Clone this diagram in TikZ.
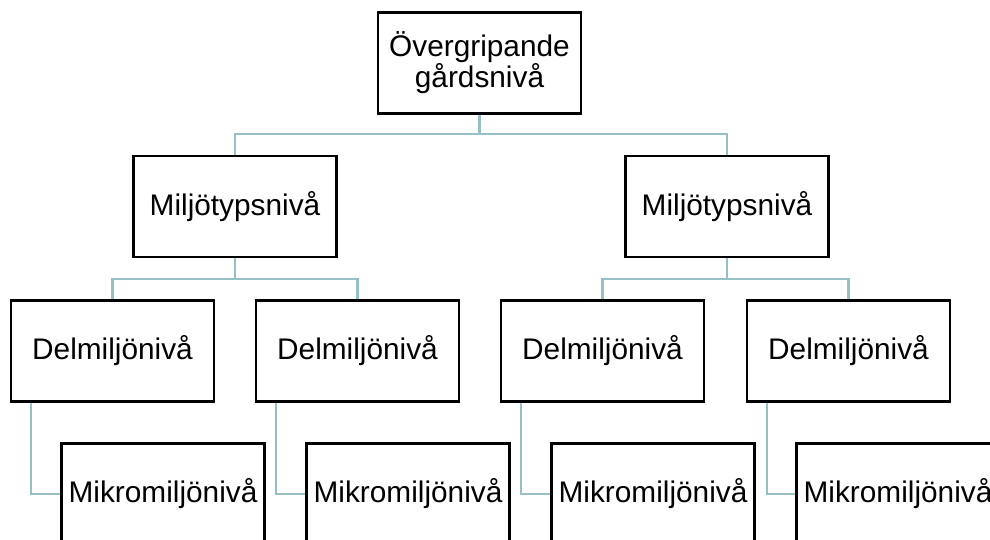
\documentclass[tikz,border=0pt]{standalone}
\usepackage{fontspec}
\setmainfont{Liberation Sans}
\definecolor{linkcol}{RGB}{150,192,198}

\tikzset{
  niva/.style={draw=black, line width=2.6pt, fill=white, minimum width=203pt, minimum height=101pt,
    inner sep=0pt, align=center, font=\fontsize{29.8}{31}\selectfont},
  link/.style={draw=linkcol, line width=2.2pt}
}

\begin{document}
\begin{tikzpicture}[x=1pt, y=-1pt]
        \clip (0, 0) rectangle (990, 539);

        % levels
        \node[niva] (gard) at (479.5, 63) {Övergripande\\gårdsnivå};

        \node[niva] (typL) at (235, 206.5) {Miljötypsnivå};
        \node[niva] (typR) at (727, 206.5) {Miljötypsnivå};

        \node[niva] (delA) at (112.5, 351) {Delmiljönivå};
        \node[niva] (delB) at (357.5, 351) {Delmiljönivå};
        \node[niva] (delC) at (602.5, 351) {Delmiljönivå};
        \node[niva] (delD) at (848.5, 351) {Delmiljönivå};

        \node[niva] (mikA) at (163, 494) {Mikromiljönivå};
        \node[niva] (mikB) at (408, 494) {Mikromiljönivå};
        \node[niva] (mikC) at (653, 494) {Mikromiljönivå};
        \node[niva] (mikD) at (898, 494) {Mikromiljönivå};

        % connectors
        \draw[link] (gard.south) -- ++(0, 19.5) -| (typL.north);
        \draw[link] (gard.south) -- ++(0, 19.5) -| (typR.north);

        \draw[link] (typL.south) -- ++(0, 21) -| (delA.north);
        \draw[link] (typL.south) -- ++(0, 21) -| (delB.north);
        \draw[link] (typR.south) -- ++(0, 21) -| (delC.north);
        \draw[link] (typR.south) -- ++(0, 21) -| (delD.north);

        \draw[link] ([xshift=21pt]delA.south west) |- (mikA.west);
        \draw[link] ([xshift=21pt]delB.south west) |- (mikB.west);
        \draw[link] ([xshift=21pt]delC.south west) |- (mikC.west);
        \draw[link] ([xshift=21pt]delD.south west) |- (mikD.west);
\end{tikzpicture}
\end{document}
